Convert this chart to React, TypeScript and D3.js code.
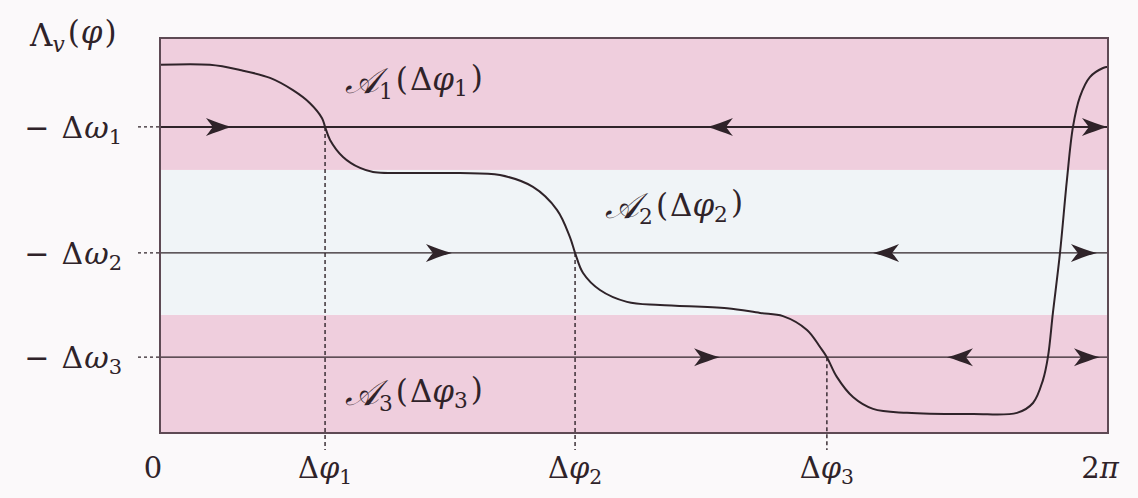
import React from 'react';
import * as d3 from 'd3';

// Phase axis runs over one full period; vertical axis is in arbitrary units of Λ_v.
const TWO_PI = 2 * Math.PI;
const phaseTicks = [0, 1.094, 2.751, 4.42, TWO_PI];
const phaseTickNames = ['0', 'Δφ1', 'Δφ2', 'Δφ3', '2π'];
const omegaLevels = [7.75, 4.56, 1.92];
const omegaNames = ['−Δω1', '−Δω2', '−Δω3'];

// Horizontal basins of attraction (lower edge, upper edge)
const bandLow = [0, 2.99, 6.66];
const bandHigh = [2.99, 6.66, 10];
const bandFill = ['#efcedd', '#f0f4f7', '#efcedd'];

// Λ_v(φ) sampled along the period
const curvePhase = [
  0, 0.331, 0.53, 0.729, 0.881, 0.994, 1.074, 1.094, 1.127, 1.213, 1.326, 1.412,
  1.723, 1.988, 2.253, 2.472, 2.631, 2.717, 2.751, 2.804, 2.916, 3.095, 3.314,
  3.758, 3.977, 4.129, 4.288, 4.374, 4.42, 4.486, 4.593, 4.726, 4.951, 5.388,
  5.68, 5.786, 5.852, 5.885, 5.918, 5.965, 6.011, 6.051, 6.097, 6.163, 6.25, 6.283,
];
const curveValue = [
  9.32, 9.32, 9.19, 8.99, 8.68, 8.35, 7.97, 7.75, 7.42, 6.99, 6.71, 6.61,
  6.58, 6.58, 6.53, 6.23, 5.65, 4.96, 4.56, 4.05, 3.62, 3.32, 3.24,
  3.16, 3.04, 2.96, 2.61, 2.18, 1.92, 1.42, 0.91, 0.61, 0.51, 0.48,
  0.51, 0.76, 1.34, 1.92, 3.04, 4.56, 6.41, 7.75, 8.51, 9.01, 9.24, 9.27,
];

// Flow arrows on each frequency line: tip phase and direction (+1 right, −1 left)
const arrowTips1 = [0.477, 3.625, 6.283];
const arrowDirs1 = [1, -1, 1];
const arrowTips2 = [1.935, 4.726, 6.21];
const arrowDirs2 = [1, -1, 1];
const arrowTips3 = [3.712, 5.216, 6.23];
const arrowDirs3 = [1, -1, 1];

// Region labels: subscript index, anchor phase, anchor value (baseline)
const regionIdx = ['1', '2', '3'];
const regionPhase = [1.226, 2.95, 1.226];
const regionValue = [8.61, 5.44, 0.71];

const W = 1138;
const H = 498;
const M = { left: 160, right: 30, top: 38, bottom: 65 };

const x = d3.scaleLinear().domain([0, TWO_PI]).range([M.left, W - M.right]);
const y = d3.scaleLinear().domain([0, 10]).range([H - M.bottom, M.top]);

const INK = '#2f2329';
const FONT = '"DejaVu Serif", serif';
const textStyle = { fontFamily: FONT };

const arrowPath = 'M0,0 C-8,-2 -18,-6 -26,-9 C-22,-4 -20,-1 -19,0 C-20,1 -22,4 -26,9 C-18,6 -8,2 0,0 Z';

function PhaseLabel({ name }: { name: string }) {
  if (name === '0') return <>0</>;
  if (name === '2π') return <>2<tspan fontStyle="italic">π</tspan></>;
  return (
    <>
      Δ<tspan fontStyle="italic">φ</tspan>
      <tspan fontSize="0.7em" dy="0.28em">{name.slice(2)}</tspan>
    </>
  );
}

export default function App() {
  const line = d3
    .line<number>()
    .x((_, i) => x(curvePhase[i]))
    .y((v) => y(v))
    .curve(d3.curveCatmullRom.alpha(0.5));

  const arrowSets = [
    { tips: arrowTips1, dirs: arrowDirs1 },
    { tips: arrowTips2, dirs: arrowDirs2 },
    { tips: arrowTips3, dirs: arrowDirs3 },
  ];

  const [x0, x1] = x.range();
  const [yb, yt] = y.range();

  return (
    <svg width={W} height={H} style={{ position: 'absolute', left: 0, top: 0, display: 'block' }}>
      <rect width={W} height={H} fill="#fbf9fa" />

      {bandLow.map((lo, i) => (
        <rect
          key={i}
          x={x0}
          y={y(bandHigh[i])}
          width={x1 - x0}
          height={y(lo) - y(bandHigh[i])}
          fill={bandFill[i]}
        />
      ))}

      {/* frequency levels with short dashed ticks outside the frame */}
      {omegaLevels.map((w, i) => (
        <g key={i}>
          <line x1={x0 - 22} x2={x0} y1={y(w)} y2={y(w)} stroke={INK} strokeWidth={1.2} strokeDasharray="3,3" />
          <line x1={x0} x2={x1} y1={y(w)} y2={y(w)} stroke={INK} strokeWidth={i === 0 ? 2 : 1.4} />
        </g>
      ))}

      {/* phase-locking points: dashed drops from the curve to the axis */}
      {phaseTicks.slice(1, 4).map((p, i) => (
        <line
          key={i}
          x1={x(p)}
          x2={x(p)}
          y1={y(omegaLevels[i])}
          y2={yb + 17}
          stroke={INK}
          strokeWidth={1.4}
          strokeDasharray="4,3"
        />
      ))}

      <path d={line(curveValue) ?? ''} fill="none" stroke={INK} strokeWidth={2} />

      {arrowSets.map((s, li) =>
        s.tips.map((t, k) => (
          <path
            key={`${li}-${k}`}
            d={arrowPath}
            fill={INK}
            transform={`translate(${x(t)},${y(omegaLevels[li])}) scale(${s.dirs[k]},1)`}
          />
        ))
      )}

      <rect x={x0} y={yt} width={x1 - x0} height={yb - yt} fill="none" stroke="#5e4a54" strokeWidth={2} />

      {/* region labels */}
      {regionIdx.map((k, i) => (
        <text
          key={i}
          x={x(regionPhase[i])}
          y={y(regionValue[i])}
          fontSize={31}
          fill={INK}
          style={textStyle}
        >
          <tspan fontStyle="italic" fontSize="1.15em">𝒜</tspan>
          <tspan fontSize="0.7em" dy="0.28em">{k}</tspan>
          <tspan dy="-0.28em" dx={3}>(</tspan>
          <tspan dx={2}>Δ</tspan>
          <tspan fontStyle="italic">φ</tspan>
          <tspan fontSize="0.7em" dy="0.28em">{k}</tspan>
          <tspan dy="-0.28em" dx={3}>)</tspan>
        </text>
      ))}

      {/* vertical axis labels */}
      <text x={30} y={46} fontSize={31} fill={INK} style={textStyle}>
        Λ<tspan fontStyle="italic" fontSize="0.7em" dy="0.28em">v</tspan>
        <tspan dy="-0.28em" dx={3}>(</tspan>
        <tspan fontStyle="italic" dx={1}>φ</tspan>
        <tspan dx={2}>)</tspan>
      </text>
      {omegaLevels.map((w, i) => (
        <text key={i} x={122} y={y(w) + 11} fontSize={30} fill={INK} textAnchor="end" style={textStyle}>
          −<tspan dx={12}>Δ</tspan>
          <tspan fontStyle="italic" dx={1}>ω</tspan>
          <tspan fontSize="0.7em" dy="0.28em">{omegaNames[i].slice(3)}</tspan>
        </text>
      ))}

      {/* phase axis labels */}
      {phaseTicks.map((p, i) => (
        <text
          key={i}
          x={x(p) + (i === 0 ? -7 : i === 4 ? -8 : 0)}
          y={yb + 45}
          fontSize={29}
          fill={INK}
          textAnchor="middle"
          style={textStyle}
        >
          <PhaseLabel name={phaseTickNames[i]} />
        </text>
      ))}
    </svg>
  );
}
